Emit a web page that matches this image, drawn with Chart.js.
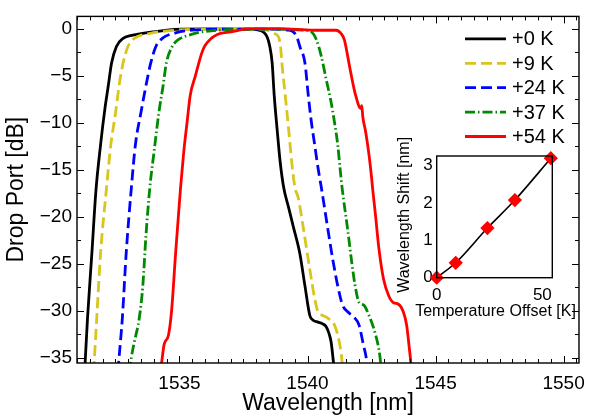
<!DOCTYPE html>
<html><head><meta charset="utf-8">
<script src="https://cdn.jsdelivr.net/npm/chart.js@4.4.1/dist/chart.umd.min.js"></script>
<style>
html,body{margin:0;padding:0;background:#fff;}
#wrap{position:relative;width:594px;height:417px;overflow:hidden;}
#main{position:absolute;left:0;top:0;}
#inset{position:absolute;left:384px;top:120px;}
</style></head><body>
<div id="wrap"><canvas id="main" width="594" height="417"></canvas><canvas id="inset" width="208" height="205"></canvas></div>
<script>
// ---------- data ----------
const seriesLabels = ['+0 K', '+9 K', '+24 K', '+37 K', '+54 K'];
const wl0 = [1531.30,1531.32,1531.41,1531.58,1531.74,1531.92,1532.09,1532.22,1532.35,1532.54,1532.80,1533.18,1533.95,1534.85,1536.0,1537.5,1538.1,1538.30,1538.42,1538.52,1538.62,1538.70,1538.81,1538.93,1539.07,1539.26,1539.45,1539.70,1539.90,1540.09,1540.22,1540.41,1540.60,1540.73,1540.85,1540.92,1541.01,1541.05];
const db0 = [-36.5,-35.4,-30.8,-23.9,-17.2,-12.35,-8.5,-6.1,-3.65,-1.9,-1.04,-0.7,-0.35,-0.07,-0.02,-0.05,-0.15,-0.4,-0.87,-1.8,-3.65,-7.1,-10.6,-14.1,-16.9,-19.0,-21.1,-23.9,-27.35,-30.5,-31.0,-31.2,-31.4,-31.7,-32.5,-33.3,-35.4,-36.5];
const wl9 = [1531.64,1531.67,1531.77,1531.92,1532.15,1532.32,1532.51,1532.64,1532.80,1532.99,1533.24,1533.82,1534.85,1536.0,1537.5,1538.5,1538.7,1538.87,1538.95,1539.00,1539.13,1539.26,1539.38,1539.51,1539.64,1539.83,1540.09,1540.28,1540.41,1540.60,1540.80,1541.05,1541.24,1541.35,1541.38];
const db9 = [-36.5,-35.4,-30.8,-23.9,-17.0,-12.35,-8.87,-6.1,-3.65,-1.9,-1.04,-0.52,-0.17,-0.05,-0.05,-0.2,-0.5,-0.9,-2.0,-3.65,-7.1,-10.6,-14.1,-16.9,-18.0,-21.1,-25.6,-28.7,-30.1,-30.5,-30.8,-31.5,-33.3,-35.4,-36.5];
const wl24 = [1532.60,1532.63,1532.77,1532.92,1533.12,1533.28,1533.50,1533.69,1533.88,1534.08,1534.33,1534.85,1535.49,1537.0,1538.5,1539.2,1539.45,1539.60,1539.70,1539.90,1540.03,1540.15,1540.28,1540.41,1540.54,1540.80,1540.99,1541.18,1541.37,1541.57,1541.82,1542.01,1542.18,1542.31,1542.34];
const db24 = [-36.5,-35.4,-30.8,-23.9,-17.0,-12.35,-8.87,-6.1,-3.65,-1.9,-1.04,-0.45,-0.17,-0.05,-0.05,-0.15,-0.35,-1.0,-1.9,-3.65,-7.1,-9.9,-12.35,-14.8,-16.9,-21.4,-24.6,-27.35,-29.4,-30.1,-30.7,-31.5,-33.6,-35.4,-36.5];
const wl37 = [1533.05,1533.12,1533.24,1533.43,1533.57,1533.69,1533.84,1534.01,1534.20,1534.36,1534.49,1534.72,1534.97,1535.36,1535.87,1537.0,1538.5,1539.8,1540.15,1540.35,1540.54,1540.73,1540.92,1541.05,1541.18,1541.27,1541.35,1541.40,1541.57,1541.73,1541.86,1542.01,1542.20,1542.40,1542.59,1542.78,1542.85,1542.88];
const db37 = [-36.5,-35.0,-33.3,-30.8,-27.35,-22.1,-17.0,-13.05,-8.87,-6.1,-3.65,-1.9,-1.15,-0.7,-0.35,-0.1,-0.05,-0.15,-0.35,-1.2,-2.95,-5.4,-7.8,-9.9,-12.35,-14.8,-16.9,-18.0,-21.4,-24.9,-27.35,-29.1,-29.4,-30.5,-31.9,-34.0,-35.4,-36.5];
const wl54 = [1534.25,1534.31,1534.40,1534.57,1534.69,1534.85,1535.04,1535.17,1535.30,1535.42,1535.62,1535.87,1536.00,1536.24,1536.50,1537.01,1537.78,1538.93,1540.22,1541.12,1541.31,1541.44,1541.57,1541.69,1541.88,1542.08,1542.12,1542.16,1542.27,1542.40,1542.50,1542.55,1542.65,1542.78,1542.97,1543.17,1543.36,1543.55,1543.74,1543.87,1543.96,1544.03,1544.06];
const db54 = [-36.5,-35.4,-33.6,-32.6,-30.1,-23.9,-17.0,-13.05,-9.9,-7.1,-5.04,-2.6,-1.8,-1.04,-0.6,-0.35,0.0,0.0,-0.17,-0.17,-0.52,-1.2,-2.95,-4.7,-7.1,-8.5,-8.2,-9.4,-10.96,-13.4,-15.8,-17.2,-19.7,-23.2,-26.65,-28.4,-29.15,-29.3,-30.1,-31.5,-33.6,-35.4,-36.5];
const xTickLabels = [1535, 1540, 1545, 1550];
const yTickLabels = [0, -5, -10, -15, -20, -25, -30, -35];
const insetTemp = [0, 9, 24, 37, 54];
const insetShift = [0, 0.40, 1.33, 2.08, 3.20];
const insetXTicks = [0, 50];
const insetYTicks = [0, 1, 2, 3];

// ---------- helpers ----------
const FONT = "'Liberation Sans', Arial, Helvetica, sans-serif";
const zip = (xs, ys) => xs.map((x, i) => ({x: x, y: ys[i]}));
const fmt = v => (v < 0 ? '\u2212' + Math.abs(v) : String(v));

const styles = [
  {color: '#000000', dash: []},
  {color: '#d9c51c', dash: [11, 5]},
  {color: '#0000ff', dash: [11, 5]},
  {color: '#008a00', dash: [10, 3, 1.5, 3]},
  {color: '#ff0000', dash: []}
];
const wls = [wl0, wl9, wl24, wl37, wl54];
const dbs = [db0, db9, db24, db37, db54];

const datasets = seriesLabels.map((lab, i) => ({
  label: lab,
  data: zip(wls[i], dbs[i]),
  borderColor: styles[i].color,
  backgroundColor: styles[i].color,
  borderDash: styles[i].dash,
  borderWidth: 2.8,
  pointRadius: 0,
  fill: false,
  cubicInterpolationMode: 'monotone',
  clip: 0,
  order: 4 - i
}));

// frame + inward ticks + legend for main chart
const mainDeco = {
  id: 'mainDeco',
  afterDraw(chart) {
    const ctx = chart.ctx;
    const {left, right, top, bottom} = chart.chartArea;
    const xs = chart.scales.x, ys = chart.scales.y;
    ctx.save();
    ctx.strokeStyle = '#000';
    ctx.lineWidth = 1.4;
    ctx.setLineDash([]);
    ctx.strokeRect(left, top, right - left, bottom - top);
    ctx.beginPath();
    for (let v = Math.ceil(xs.min * 2) / 2; v <= xs.max + 1e-9; v += 0.5) {
      const p = Math.round(xs.getPixelForValue(v)) + 0.5;
      const len = xTickLabels.includes(v) ? 7 : 4;
      ctx.moveTo(p, bottom); ctx.lineTo(p, bottom - len);
      ctx.moveTo(p, top); ctx.lineTo(p, top + len);
    }
    for (let v = Math.ceil(ys.min / 2.5) * 2.5; v <= ys.max + 1e-9; v += 2.5) {
      const p = Math.round(ys.getPixelForValue(v)) + 0.5;
      const len = yTickLabels.includes(v) ? 7 : 4;
      ctx.moveTo(left, p); ctx.lineTo(left + len, p);
      ctx.moveTo(right, p); ctx.lineTo(right - len, p);
    }
    ctx.lineWidth = 1;
    ctx.stroke();

    // legend
    const x0 = right - 114, x1 = right - 73, tx = right - 67;
    ctx.font = '20px ' + FONT;
    ctx.textBaseline = 'middle';
    ctx.textAlign = 'left';
    chart.data.datasets.forEach((ds, i) => {
      const yy = top + 22.5 + i * 24.4;
      ctx.beginPath();
      ctx.strokeStyle = ds.borderColor;
      ctx.lineWidth = ds.borderWidth;
      ctx.setLineDash(ds.borderDash);
      ctx.moveTo(x0, yy); ctx.lineTo(x1, yy);
      ctx.stroke();
      ctx.setLineDash([]);
      ctx.fillStyle = '#000';
      ctx.fillText(ds.label, tx, yy + 1);
    });
    ctx.restore();
  }
};

new Chart(document.getElementById('main'), {
  type: 'line',
  data: {datasets: datasets},
  options: {
    responsive: false,
    animation: false,
    devicePixelRatio: 1,
    layout: {padding: {left: 0, top: 11, right: 8, bottom: 0}},
    plugins: {legend: {display: false}, tooltip: {enabled: false}},
    scales: {
      x: {
        type: 'linear', min: 1531, max: 1550.6,
        grid: {display: false, drawTicks: false}, border: {display: false},
        afterBuildTicks: s => { s.ticks = xTickLabels.map(v => ({value: v})); },
        afterFit: s => { s.height = 54; },
        ticks: {color: '#000', font: {family: FONT, size: 19}, padding: 9, maxRotation: 0, callback: v => fmt(v)},
        title: {display: true, text: 'Wavelength [nm]', color: '#000', font: {family: FONT, size: 23}, padding: {top: 0, bottom: 0}}
      },
      y: {
        type: 'linear', min: -35.55, max: 1.3,
        grid: {display: false, drawTicks: false}, border: {display: false},
        afterBuildTicks: s => { s.ticks = yTickLabels.map(v => ({value: v})); },
        afterFit: s => { s.width = 77; },
        ticks: {color: '#000', font: {family: FONT, size: 19}, padding: 5, callback: v => fmt(v)},
        title: {display: true, text: 'Drop Port [dB]', color: '#000', font: {family: FONT, size: 23}, padding: {top: 3, bottom: 0}}
      }
    }
  },
  plugins: [mainDeco]
});

// ---------- inset ----------
const insetDeco = {
  id: 'insetDeco',
  beforeDatasetsDraw(chart) {
    const ctx = chart.ctx;
    const {left, right, top, bottom} = chart.chartArea;
    ctx.save();
    ctx.fillStyle = '#fff';
    ctx.fillRect(left, top, right - left, bottom - top);
    ctx.restore();
  },
  afterDraw(chart) {
    const ctx = chart.ctx;
    const {left, right, top, bottom} = chart.chartArea;
    ctx.save();
    ctx.strokeStyle = '#000';
    ctx.lineWidth = 1.4;
    ctx.strokeRect(left, top, right - left, bottom - top);
    ctx.fillStyle = '#000';
    ctx.font = '16px ' + FONT;
    ctx.textAlign = 'center';
    ctx.textBaseline = 'middle';
    ctx.fillText('Temperature Offset [K]', (left + right) / 2 + 1, bottom + 34);
    ctx.translate(left - 32.5, (top + bottom) / 2 - 2);
    ctx.rotate(-Math.PI / 2);
    ctx.fillText('Wavelength Shift [nm]', 0, 0);
    ctx.restore();
  }
};

new Chart(document.getElementById('inset'), {
  type: 'line',
  data: {datasets: [{
    label: 'Wavelength Shift',
    data: zip(insetTemp, insetShift),
    borderColor: '#000', borderWidth: 1.6,
    pointStyle: 'rectRot', pointRadius: 6,
    pointBackgroundColor: '#ff0000', pointBorderColor: '#ff0000',
    cubicInterpolationMode: 'monotone',
    clip: false
  }]},
  options: {
    responsive: false,
    animation: false,
    devicePixelRatio: 1,
    layout: {padding: {left: 0, top: 36, right: 39.7, bottom: 0}},
    plugins: {legend: {display: false}, tooltip: {enabled: false}},
    scales: {
      x: {
        type: 'linear', min: 0, max: 54.7,
        grid: {display: false, drawTicks: false}, border: {display: false},
        afterBuildTicks: s => { s.ticks = insetXTicks.map(v => ({value: v})); },
        afterFit: s => { s.height = 47.3; },
        ticks: {color: '#000', font: {family: FONT, size: 17}, padding: 7, maxRotation: 0}
      },
      y: {
        type: 'linear', min: 0, max: 3.26,
        grid: {display: false, drawTicks: false}, border: {display: false},
        afterBuildTicks: s => { s.ticks = insetYTicks.map(v => ({value: v})); },
        afterFit: s => { s.width = 52.7; },
        ticks: {color: '#000', font: {family: FONT, size: 17}, padding: 4}
      }
    }
  },
  plugins: [insetDeco]
});
</script>
</body></html>
